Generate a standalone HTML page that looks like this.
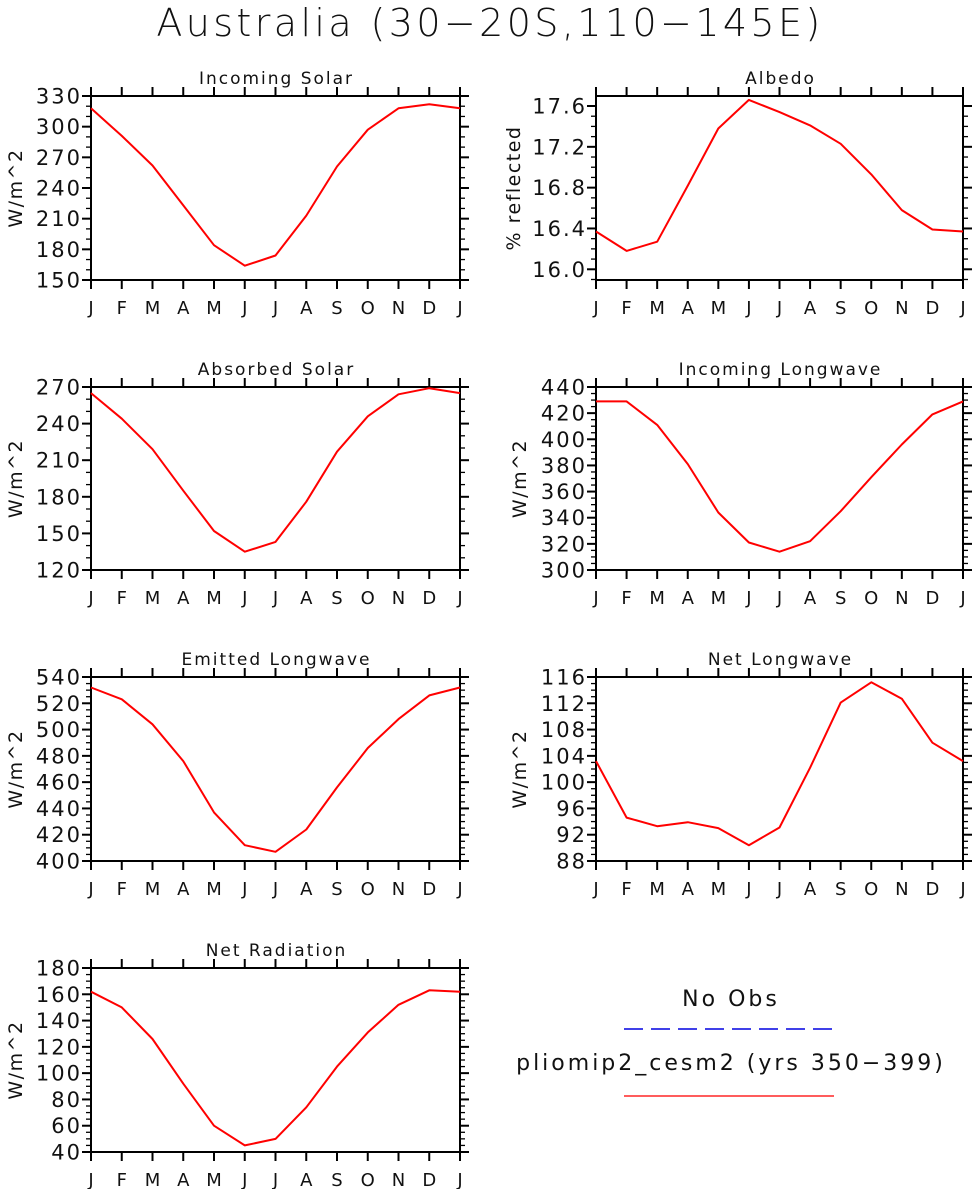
<!DOCTYPE html>
<html><head><meta charset="utf-8"><style>
html,body{margin:0;padding:0;background:#fff;}
svg{display:block;font-family:"DejaVu Sans","Liberation Sans",sans-serif;}
</style></head><body>
<svg id="fig" width="974" height="1189" viewBox="0 0 974 1189">
<text x="490" y="36" text-anchor="middle" font-size="38" letter-spacing="3.4" fill="#111" style="font-weight:200">Australia (30−20S,110−145E)</text>
<g>
<text x="731" y="1006" text-anchor="middle" font-size="22" letter-spacing="3" fill="#111">No Obs</text>
<line x1="624" y1="1029" x2="834" y2="1029" stroke="#0000e0" stroke-width="1.5" stroke-dasharray="19,8"/>
<text x="731" y="1070" text-anchor="middle" font-size="22" letter-spacing="3" fill="#111">pliomip2_cesm2 (yrs 350−399)</text>
<line x1="624" y1="1096" x2="834" y2="1096" stroke="#f44" stroke-width="1.8"/>
</g>
</svg>
<script>
const months = ["J","F","M","A","M","J","J","A","S","O","N","D","J"];
const incomingSolar = [318,291,262,223,184,164,174,213,261,297,318,322,318];
const albedo = [16.37,16.18,16.27,16.82,17.38,17.66,17.54,17.41,17.23,16.93,16.58,16.39,16.37];
const absorbedSolar = [265,244,219,185,152,135,143,176,217,246,264,269,265];
const incomingLW = [429,429,411,381,344,321,314,322,345,371,396,419,429];
const emittedLW = [532,523,504,476,437,412,407,424,456,486,508,526,532];
const netLW = [103.2,94.6,93.3,93.9,93.0,90.4,93.1,102.2,112.1,115.2,112.7,106.0,103.2];
const netRad = [162,150,126,92,60,45,50,74,105,131,152,163,162];
const incomingSolarTicks = [150,180,210,240,270,300,330];
const albedoTicks = [16.0,16.4,16.8,17.2,17.6];
const absorbedTicks = [120,150,180,210,240,270];
const incomingLWTicks = [300,320,340,360,380,400,420,440];
const emittedTicks = [400,420,440,460,480,500,520,540];
const netLWTicks = [88,92,96,100,104,108,112,116];
const netRadTicks = [40,60,80,100,120,140,160,180];

const NS="http://www.w3.org/2000/svg";
const svg=document.getElementById('fig');
function mk(tag,attrs,parent){const e=document.createElementNS(NS,tag);for(const k in attrs)e.setAttribute(k,attrs[k]);(parent||svg).appendChild(e);return e;}

const panels=[
 {id:"incoming-solar",title:"Incoming Solar",ylab:"W/m^2",data:incomingSolar,ticks:incomingSolarTicks,min:150,max:330,minor:10,dec:0,x0:91,x1:460,y0:96,y1:280,ylx:16},
 {id:"albedo",title:"Albedo",ylab:"% reflected",data:albedo,ticks:albedoTicks,min:15.895,max:17.698,minor:0.1,dec:1,x0:596,x1:963,y0:96,y1:280,ylx:514},
 {id:"absorbed-solar",title:"Absorbed Solar",ylab:"W/m^2",data:absorbedSolar,ticks:absorbedTicks,min:120,max:270,minor:10,dec:0,x0:91,x1:460,y0:387,y1:570,ylx:16},
 {id:"incoming-longwave",title:"Incoming Longwave",ylab:"W/m^2",data:incomingLW,ticks:incomingLWTicks,min:300,max:440,minor:5,dec:0,x0:596,x1:963,y0:387,y1:570,ylx:520},
 {id:"emitted-longwave",title:"Emitted Longwave",ylab:"W/m^2",data:emittedLW,ticks:emittedTicks,min:400,max:540,minor:5,dec:0,x0:91,x1:460,y0:677,y1:861,ylx:16},
 {id:"net-longwave",title:"Net Longwave",ylab:"W/m^2",data:netLW,ticks:netLWTicks,min:88,max:116,minor:1,dec:0,x0:596,x1:963,y0:677,y1:861,ylx:520},
 {id:"net-radiation",title:"Net Radiation",ylab:"W/m^2",data:netRad,ticks:netRadTicks,min:40,max:180,minor:5,dec:0,x0:91,x1:460,y0:968,y1:1152,ylx:16}
];

panels.forEach(p=>{
 const g=mk('g',{});
 
 
 const xs=i=>p.x0+(p.x1-p.x0)*i/12;
 const ys=v=>p.y1-(p.y1-p.y0)*(v-p.min)/(p.max-p.min);
 for(let v=Math.ceil(p.min/p.minor-1e-6)*p.minor; v<=p.max+1e-9; v+=p.minor){
   const major=p.ticks.some(t=>Math.abs(t-v)<p.minor/100);
   const L=major?9:5, y=ys(v);
   mk('line',{x1:p.x0-L,y1:y,x2:p.x0,y2:y,stroke:'#000','stroke-width':major?2:1.3},g);
   mk('line',{x1:p.x1,y1:y,x2:p.x1+L,y2:y,stroke:'#000','stroke-width':major?2:1.3},g);
 }
 p.ticks.forEach(t=>{
   const tl=mk('text',{x:p.x0-9,y:ys(t)+7.5,'text-anchor':'end','font-size':21,'letter-spacing':2,fill:'#111'},g);
   tl.textContent=t.toFixed(p.dec);
   
   
 });
 months.forEach((m,i)=>{
   const x=xs(i);
   mk('line',{x1:x,y1:p.y0-9,x2:x,y2:p.y0,stroke:'#000','stroke-width':2},g);
   mk('line',{x1:x,y1:p.y1,x2:x,y2:p.y1+9,stroke:'#000','stroke-width':2},g);
   const ml=mk('text',{x:x,y:p.y1+34,'text-anchor':'middle','font-size':18,fill:'#111'},g);
   ml.textContent=m;
   
   
 });
 const box=mk('rect',{x:p.x0,y:p.y0,width:p.x1-p.x0,height:p.y1-p.y0,fill:'none',stroke:'#000','stroke-width':2},g);
 
 
 const t=mk('text',{x:(p.x0+p.x1)/2+1,y:p.y0-12,'text-anchor':'middle','font-size':17,'letter-spacing':2,fill:'#111'},g);
 t.textContent=p.title;
 
 
 const yl=mk('text',{x:0,y:0,'text-anchor':'middle','font-size':19,'letter-spacing':1.5,fill:'#111',transform:`translate(${p.ylx+6},${(p.y0+p.y1)/2}) rotate(-90)`},g);
 yl.textContent=p.ylab;
 
 
 const pts=p.data.map((v,i)=>xs(i).toFixed(1)+','+ys(v).toFixed(1)).join(' ');
 const line=mk('polyline',{points:pts,fill:'none',stroke:'#f00','stroke-width':2,'stroke-linejoin':'round'},g);
 
 
});
</script>
</body></html>
